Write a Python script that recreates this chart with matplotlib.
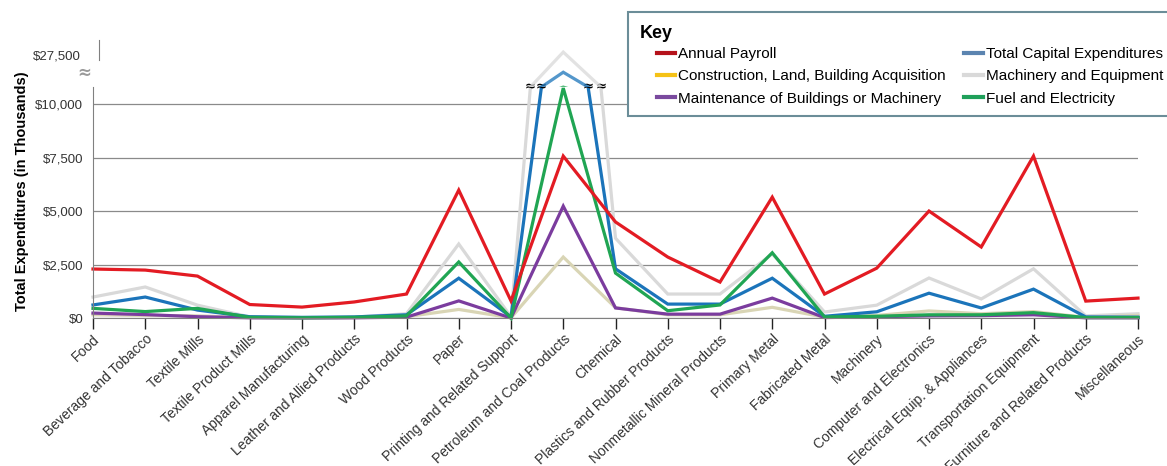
import numpy as np
import matplotlib
matplotlib.use("Agg")
import matplotlib.pyplot as plt
from matplotlib.lines import Line2D
from matplotlib.patches import Rectangle
from matplotlib.transforms import Bbox, TransformedBbox

plt.rcParams['font.family'] = ['Liberation Sans', 'DejaVu Sans']

categories = ["Food", "Beverage and Tobacco", "Textile Mills", "Textile Product Mills",
              "Apparel Manufacturing", "Leather and Allied Products", "Wood Products",
              "Paper", "Printing and Related Support", "Petroleum and Coal Products",
              "Chemical", "Plastics and Rubber Products", "Nonmetallic Mineral Products",
              "Primary Metal", "Fabricated Metal", "Machinery", "Computer and Electronics",
              "Electrical Equip. & Appliances", "Transportation Equipment",
              "Furniture and Related Products", "Miscellaneous"]

# totals in thousands of dollars
payroll      = [2290, 2240, 1960, 630, 510, 750, 1120, 5980, 800, 7570, 4490,
                2850, 1680, 5650, 1120, 2330, 5000, 3320, 7570, 790, 930]
construction = [150, 120, 100, 20, 10, 20, 60, 400, 10, 2850, 480,
                150, 150, 500, 40, 120, 330, 200, 300, 30, 120]
maintenance  = [230, 160, 60, 10, 5, 10, 40, 800, 0, 5230, 470,
                180, 180, 930, 20, 60, 100, 110, 150, 10, 10]
capital      = [610, 980, 370, 60, 30, 50, 150, 1860, 50, 18500, 2300,
                650, 650, 1860, 80, 290, 1160, 470, 1350, 50, 40]
machinery    = [980, 1450, 600, 50, 20, 40, 200, 3460, 50, 29000, 3730,
                1120, 1120, 3000, 280, 600, 1870, 890, 2300, 100, 200]
fuel         = [450, 300, 450, 30, 10, 30, 100, 2620, 0, 10750, 2100,
                340, 610, 3050, 50, 80, 150, 150, 250, 20, 20]

low_ticks = [0, 2500, 5000, 7500, 10000]
low_labels = ["$0", "$2,500", "$5,000", "$7,500", "$10,000"]
high_ticks = [27500]
high_labels = ["$27,500"]

W, H = 1167, 466
fig = plt.figure(figsize=(W / 100, H / 100), dpi=100)

def fx(px):
    return px / W

def fy(px):
    return 1 - px / H

x0, x1 = 93, 1138
y_zero, y_break, y_top = 318, 87, 40
brk = 10800
top = 35300

ax = fig.add_axes([fx(x0), fy(y_zero), fx(x1 - x0), (y_zero - y_break) / H])
ax_up = fig.add_axes([fx(x0), fy(y_break), fx(x1 - x0), (y_break - y_top) / H], sharex=ax)
ax_up.patch.set_visible(False)

# (name, values, line colour, key colour) - drawn back to front
series = [
    ("Machinery and Equipment", machinery, "#d9d9d9", "#d9d9d9"),
    ("Construction, Land, Building Acquisition", construction, "#d9d5b5", "#f5c216"),
    ("Maintenance of Buildings or Machinery", maintenance, "#7b3c9e", "#7a4a9e"),
    ("Total Capital Expenditures", capital, "#1b74ba", "#5b84b0"),
    ("Fuel and Electricity", fuel, "#20a553", "#1fa05a"),
    ("Annual Payroll", payroll, "#e31b23", "#b5121b"),
]

x = np.arange(len(categories))
clip = TransformedBbox(Bbox([[-0.02, -0.05], [1.02, 1.0]]), ax.transAxes)
for name, vals, col, _ in series:
    ln, = ax.plot(x, vals, color=col, lw=2.3, solid_joinstyle='miter')
    ln.set_clip_box(clip)
    ax_up.plot(x, vals, color=col, lw=2.3, alpha=0.75, solid_joinstyle='miter')

# lower panel
ax.set_xlim(0, len(categories) - 1)
ax.set_ylim(0, brk)
ax.set_yticks(low_ticks)
ax.set_yticklabels(low_labels)
ax.yaxis.grid(True, color='#8a8a8a', lw=0.9)
ax.set_axisbelow(True)
ax.tick_params(axis='y', length=0, pad=7, labelsize=9.5, labelcolor='#333333')
ax.tick_params(axis='x', length=8, width=1, color='#222222', pad=2)
ax.set_xticks(x)
ax.set_xticklabels(categories, rotation=43, ha='right', va='top',
                   rotation_mode='anchor', fontsize=10, color='#333333')
for s in ['top', 'right']:
    ax.spines[s].set_visible(False)
ax.spines['left'].set_color('#808080')
ax.spines['bottom'].set_color('#808080')

# upper panel above the break
ax_up.set_ylim(brk, top)
ax_up.set_yticks(high_ticks)
ax_up.set_yticklabels(high_labels)
ax_up.tick_params(axis='x', bottom=False, labelbottom=False)
ax_up.tick_params(axis='y', length=0, pad=13, labelsize=9.5, labelcolor='#333333')
for s in ['top', 'right', 'bottom']:
    ax_up.spines[s].set_visible(False)
ax_up.spines['left'].set_bounds(24900, top)
ax_up.spines['left'].set_position(('axes', 0.006))
ax_up.spines['left'].set_color('#808080')

# break marks where the tall lines leave the lower scale
for vals in (machinery, capital):
    for i0, i1 in ((8, 9), (9, 10)):
        v0, v1 = vals[i0], vals[i1]
        t = (brk - v0) / (v1 - v0)
        ax.text(i0 + t * (i1 - i0), brk, "\u2248", ha='center', va='center',
                fontsize=9.5, fontweight='bold', family='DejaVu Sans',
                color='black', zorder=10, clip_on=False)
fig.text(fx(84), fy(73), "\u2248", ha='center', va='center', fontsize=12,
         fontweight='bold', color='#9a9a9a', family='DejaVu Sans')

fig.text(fx(22), fy(191), "Total Expenditures (in Thousands)", rotation=90,
         ha='center', va='center', fontsize=10.5, fontweight='bold')

# key
box = Rectangle((fx(628), fy(116)), fx(600), (116 - 12) / H, transform=fig.transFigure,
                facecolor='white', edgecolor='#6b8d98', lw=1.5, zorder=5)
fig.add_artist(box)
fig.text(fx(640), fy(33), "Key", ha='left', va='center', fontsize=13,
         fontweight='bold', zorder=6)
order = [5, 1, 2, 3, 0, 4]
handles = [Line2D([], [], color=series[i][3], lw=3) for i in order]
labels = [series[i][0] for i in order]
leg = fig.legend(handles, labels, ncol=2, frameon=False, loc='upper left',
                 bbox_to_anchor=(fx(657), fy(47)), fontsize=11, handlelength=1.2,
                 handletextpad=0.2, columnspacing=1.2, labelspacing=0.55,
                 borderaxespad=0, borderpad=0)
leg.set_zorder(6)

fig.savefig("out.png", dpi=100)
